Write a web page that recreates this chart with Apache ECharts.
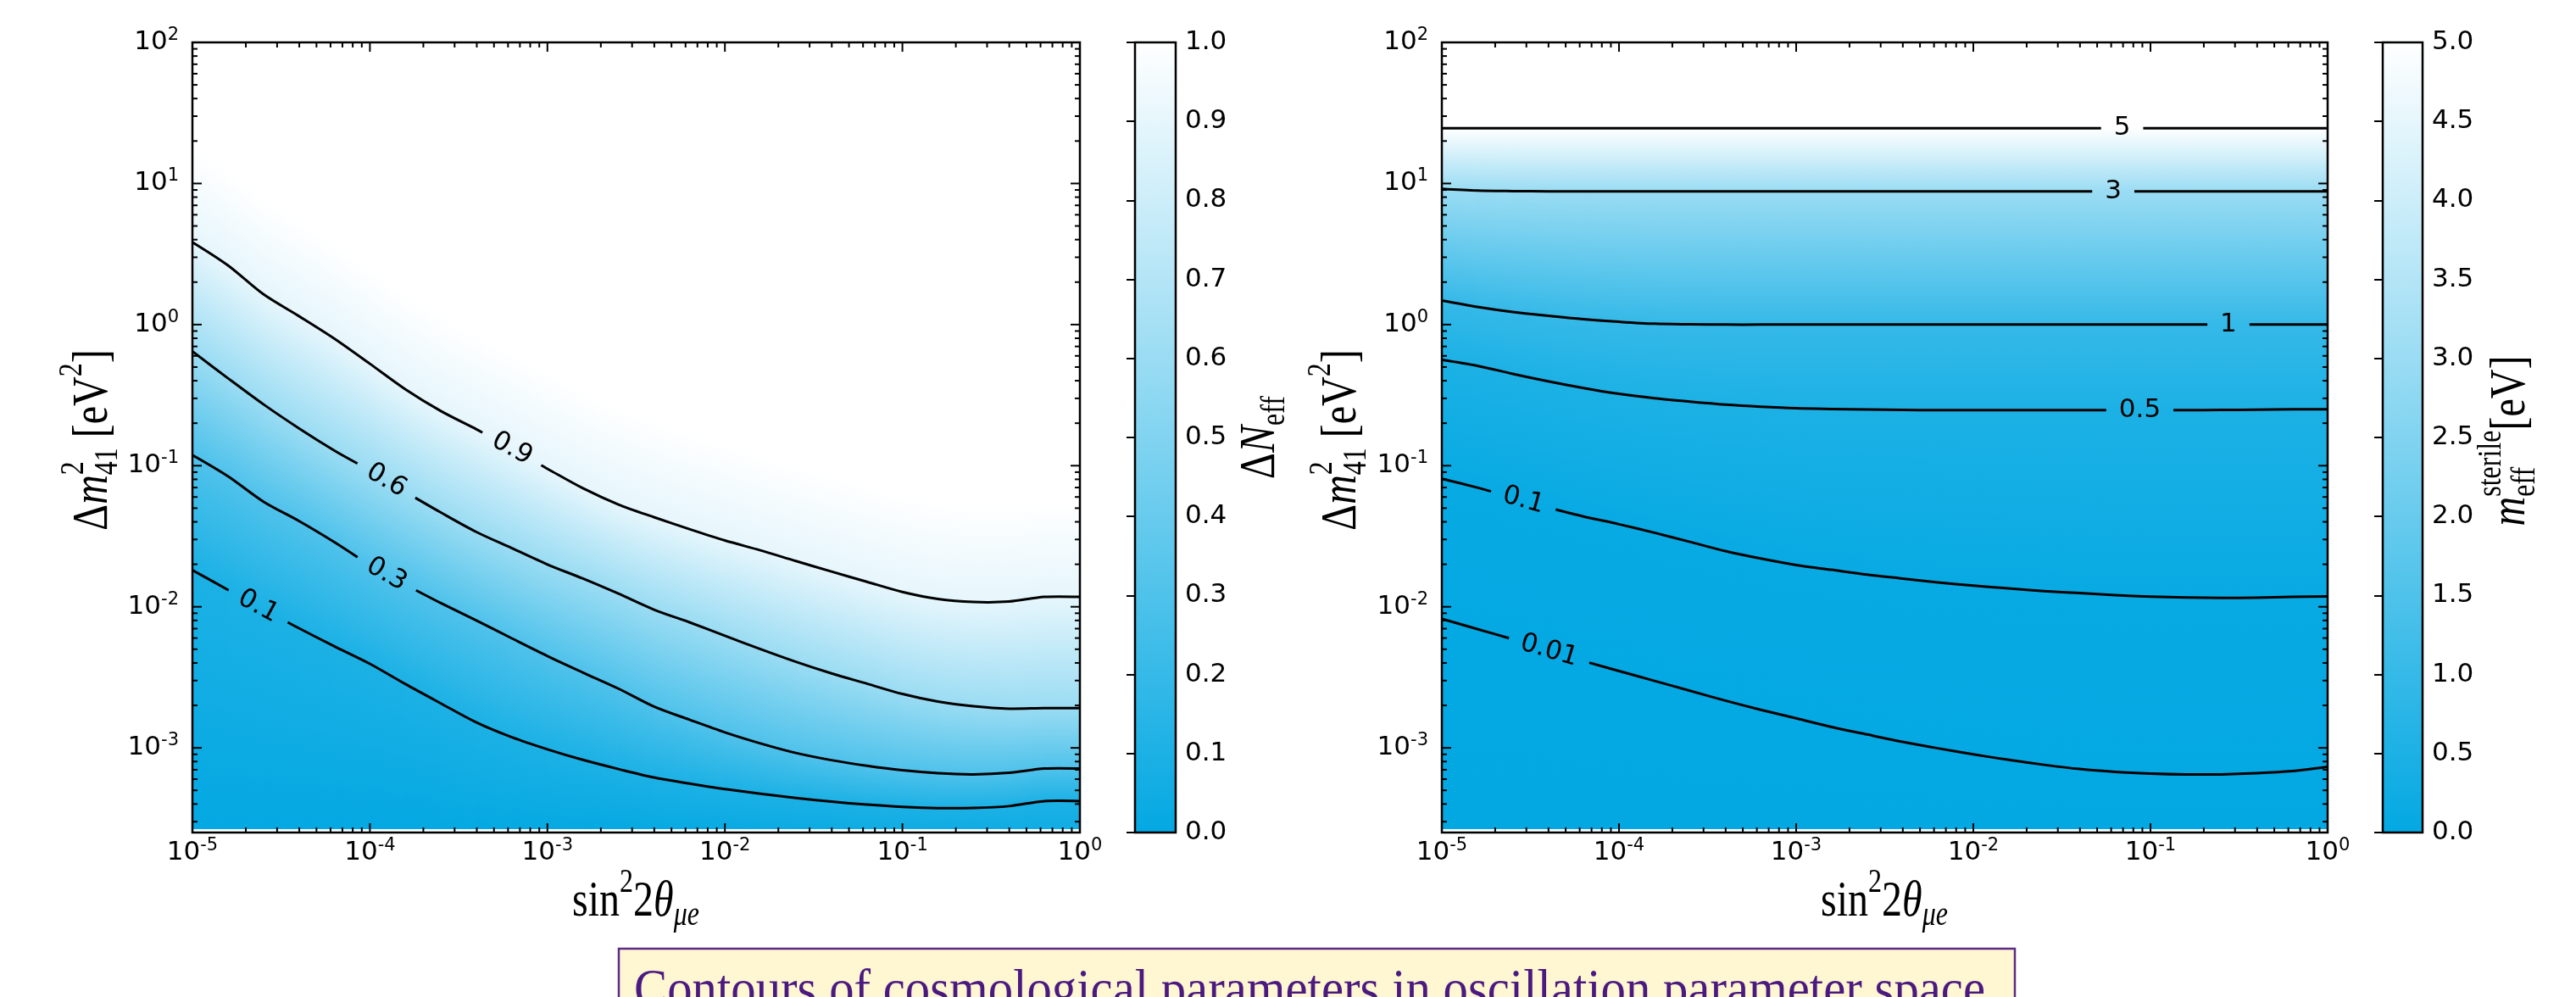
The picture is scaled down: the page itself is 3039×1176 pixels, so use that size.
<!DOCTYPE html>
<html>
<head>
<meta charset="utf-8">
<title>Contours of cosmological parameters</title>
<script src="https://cdn.jsdelivr.net/npm/echarts@6/dist/echarts.min.js"></script>
<style>
  html, body { margin: 0; padding: 0; background: #fff; }
  #chart { width: 3039px; height: 1176px; }
</style>
</head>
<body>
<div id="chart"></div>
<script>
// columns of sin^2(2theta), log10, shared by every contour
var sinExp = [-5, -4.8, -4.6, -4.4, -4.2, -4, -3.8, -3.6, -3.4, -3.2, -3, -2.8, -2.6, -2.4, -2.2, -2, -1.8, -1.6, -1.4, -1.2, -1, -0.8, -0.6, -0.4, -0.2, 0];

// left panel, Delta N_eff: log10(dm2_41) of each contour at the columns above
var dn09 = [0.584, 0.42, 0.215, 0.06, -0.10, -0.278, -0.459, -0.613, -0.742, -0.88, -1.022, -1.16, -1.275, -1.365, -1.45, -1.53, -1.60, -1.676, -1.75, -1.823, -1.895, -1.945, -1.966, -1.963, -1.93, -1.93];
var dn06 = [-0.19, -0.38, -0.565, -0.735, -0.893, -1.034, -1.187, -1.332, -1.47, -1.585, -1.70, -1.80, -1.907, -2.02, -2.11, -2.205, -2.30, -2.39, -2.472, -2.545, -2.618, -2.672, -2.705, -2.722, -2.718, -2.718];
var dn03 = [-0.925, -1.075, -1.255, -1.392, -1.542, -1.706, -1.844, -1.974, -2.097, -2.224, -2.349, -2.466, -2.58, -2.707, -2.80, -2.89, -2.968, -3.036, -3.087, -3.127, -3.159, -3.18, -3.188, -3.177, -3.147, -3.147];
var dn01 = [-1.74, -1.88, -2.018, -2.152, -2.28, -2.404, -2.548, -2.685, -2.82, -2.925, -3.01, -3.085, -3.15, -3.21, -3.253, -3.292, -3.325, -3.355, -3.381, -3.402, -3.418, -3.427, -3.426, -3.413, -3.377, -3.377];
// where the left field has faded to white (Delta N_eff ~ 1)
var dnWhite = [1.25, 1.10, 0.90, 0.74, 0.58, 0.40, 0.22, 0.07, -0.06, -0.19, -0.33, -0.46, -0.58, -0.67, -0.76, -0.84, -0.92, -0.99, -1.06, -1.13, -1.20, -1.25, -1.28, -1.28, -1.26, -1.26];
// Delta N_eff along the lower edge of the panel
var dnFloor = [0.005, 0.005, 0.005, 0.005, 0.005, 0.005, 0.005, 0.006, 0.007, 0.008, 0.01, 0.012, 0.015, 0.018, 0.02, 0.025, 0.03, 0.035, 0.04, 0.045, 0.05, 0.05, 0.05, 0.05, 0.055, 0.055];
var dnLabels = ['0.9', '0.6', '0.3', '0.1'];
var dnLabelAt = [-3.2, -3.907, -3.907, -4.63];

// right panel, m_eff^sterile [eV]
var m5 = [1.392, 1.392, 1.392, 1.392, 1.392, 1.392, 1.392, 1.392, 1.392, 1.392, 1.392, 1.392, 1.392, 1.392, 1.392, 1.392, 1.392, 1.392, 1.392, 1.392, 1.392, 1.392, 1.392, 1.392, 1.392, 1.392];
var m3 = [0.962, 0.95, 0.946, 0.944, 0.944, 0.944, 0.944, 0.944, 0.944, 0.944, 0.944, 0.944, 0.944, 0.944, 0.944, 0.944, 0.944, 0.944, 0.944, 0.944, 0.944, 0.944, 0.944, 0.944, 0.944, 0.944];
var m1 = [0.17, 0.125, 0.089, 0.062, 0.038, 0.02, 0.006, 0.002, 0, 0, 0, 0, 0, 0, 0, 0, 0, 0, 0, 0, 0, 0, 0, 0, 0, 0];
var m05 = [-0.25, -0.292, -0.349, -0.402, -0.45, -0.491, -0.522, -0.546, -0.567, -0.582, -0.593, -0.598, -0.602, -0.605, -0.606, -0.606, -0.606, -0.606, -0.606, -0.606, -0.606, -0.606, -0.605, -0.603, -0.60, -0.60];
var m01 = [-1.092, -1.155, -1.225, -1.297, -1.36, -1.415, -1.475, -1.54, -1.605, -1.658, -1.704, -1.738, -1.772, -1.80, -1.827, -1.85, -1.87, -1.889, -1.903, -1.917, -1.928, -1.934, -1.937, -1.936, -1.93, -1.926];
var m001 = [-2.085, -2.158, -2.23, -2.31, -2.385, -2.455, -2.525, -2.595, -2.665, -2.73, -2.79, -2.852, -2.905, -2.957, -3.003, -3.046, -3.085, -3.12, -3.15, -3.17, -3.182, -3.188, -3.188, -3.18, -3.165, -3.135];
var mLabels = ['5', '3', '1', '0.5', '0.1', '0.01'];
var mLabelAt = [-1.16, -1.21, -0.56, -1.06, -4.54, -4.395];
var mFloor = 0.003;

var yMinExp = -3.6;
var fillFloor = -3.572;
var caption = 'Contours of cosmological parameters in oscillation parameter space';

var BASE = [3, 168, 226];
var LABEL_FONT = '31px "DejaVu Sans"';
var SERIF = '"Liberation Serif"';

function cmap(t) {
    t = Math.max(0, Math.min(1, t));
    return 'rgb(' + BASE.map(function (c) { return Math.round(c + (255 - c) * t); }).join(',') + ')';
}

var measureCtx = document.createElement('canvas').getContext('2d');
function textWidth(txt, font) {
    measureCtx.font = font;
    return measureCtx.measureText(txt).width;
}
function pow10(e) { return Math.pow(10, e); }

function minorTicks(e0, e1, lo) {
    var out = [];
    for (var e = e0; e < e1; e++) {
        for (var m = 2; m < 10; m++) {
            var v = m * pow10(e);
            if (v >= lo) out.push(v);
        }
    }
    return out;
}
var xMajor = [1e-5, 1e-4, 1e-3, 1e-2, 1e-1, 1];
var yMajor = [1e-3, 1e-2, 1e-1, 1, 10, 100];
var xMinor = minorTicks(-5, 0, 1e-5);
var yMinor = minorTicks(-4, 2, pow10(yMinExp));

function powLabel(v) {
    var e = Math.log(v) / Math.LN10;
    var r = Math.round(e);
    if (Math.abs(e - r) > 1e-6) return '';
    return '{b|10}{s|' + r + '}';
}
var tickRich = {
    b: { fontSize: 31, fontFamily: 'DejaVu Sans', lineHeight: 38, color: '#000' },
    s: { fontSize: 21, fontFamily: 'DejaVu Sans', lineHeight: 25, verticalAlign: 'top', color: '#000' }
};

function logX(g) {
    return {
        type: 'log', logBase: 10, gridIndex: g, min: 1e-5, max: 1,
        axisLine: { show: false }, axisTick: { show: false }, splitLine: { show: false },
        axisLabel: { formatter: powLabel, margin: 5, rich: tickRich }
    };
}
function logY(g) {
    return {
        type: 'log', logBase: 10, gridIndex: g, min: pow10(yMinExp), max: 100,
        axisLine: { show: false }, axisTick: { show: false }, splitLine: { show: false },
        axisLabel: { formatter: powLabel, margin: 16, rich: tickRich }
    };
}
function barX(g) {
    return { type: 'value', gridIndex: g, min: 0, max: 1, show: false };
}
function barY(g, max, step) {
    return {
        type: 'value', gridIndex: g, min: 0, max: max, interval: step, position: 'right', z: 5,
        axisLine: { show: false }, splitLine: { show: false },
        axisTick: { show: true, inside: true, length: 10, lineStyle: { color: '#000', width: 2 } },
        axisLabel: {
            formatter: function (v) { return v.toFixed(1); },
            fontSize: 31, fontFamily: 'DejaVu Sans', color: '#000', margin: 11
        }
    };
}

// filled bands between consecutive levels, shaded across each band
function fillSeries(gi, levels, vals, vmax) {
    var data = [];
    for (var k = 0; k < levels.length - 1; k++) {
        for (var i = 0; i < sinExp.length - 1; i++) {
            data.push([pow10(sinExp[i]), pow10(levels[k][i]), i, k]);
        }
    }
    function valAt(k, i) {
        var v = vals[k];
        v = Array.isArray(v) ? (v[i] + v[i + 1]) / 2 : v;
        return v / vmax;
    }
    return {
        type: 'custom', xAxisIndex: gi, yAxisIndex: gi, silent: true, clip: true, z: 1,
        dimensions: ['x', 'y', 'i', 'k'], encode: { x: 0, y: 1 },
        data: data,
        renderItem: function (params, api) {
            var i = api.value(2), k = api.value(3);
            var lo = levels[k], hi = levels[k + 1];
            var x0 = pow10(sinExp[i]), x1 = pow10(sinExp[i + 1]);
            var p0 = api.coord([x0, pow10(lo[i])]);
            var p1 = api.coord([x1, pow10(lo[i + 1])]);
            var p2 = api.coord([x1, pow10(hi[i + 1])]);
            var p3 = api.coord([x0, pow10(hi[i])]);
            var dx = (p1[0] - p0[0]) + (p2[0] - p3[0]);
            var dy = (p1[1] - p0[1]) + (p2[1] - p3[1]);
            var len = Math.sqrt(dx * dx + dy * dy) || 1;
            var nx = -dy / len, ny = dx / len;
            var lm = [(p0[0] + p1[0]) / 2, (p0[1] + p1[1]) / 2];
            var um = [(p2[0] + p3[0]) / 2, (p2[1] + p3[1]) / 2];
            var proj = (um[0] - lm[0]) * nx + (um[1] - lm[1]) * ny;
            if (Math.abs(proj) < 0.5) proj = proj < 0 ? -0.5 : 0.5;
            var grad = new echarts.graphic.LinearGradient(
                lm[0], lm[1], lm[0] + nx * proj, lm[1] + ny * proj,
                [{ offset: 0, color: cmap(valAt(k, i)) }, { offset: 1, color: cmap(valAt(k + 1, i)) }],
                true
            );
            var e = 0.6;
            return {
                type: 'polygon',
                shape: { points: [[p0[0] - e, p0[1] + e], [p1[0] + e, p1[1] + e], [p2[0] + e, p2[1] - e], [p3[0] - e, p3[1] - e]] },
                style: { fill: grad }
            };
        }
    };
}

function cutAround(pts, c, r) {
    function dist(p) { return Math.hypot(p[0] - c[0], p[1] - c[1]); }
    function hit(p, q, enter) {
        var fx = p[0] - c[0], fy = p[1] - c[1], ex = q[0] - p[0], ey = q[1] - p[1];
        var A = ex * ex + ey * ey, B = 2 * (fx * ex + fy * ey), C = fx * fx + fy * fy - r * r;
        var s = Math.sqrt(Math.max(0, B * B - 4 * A * C));
        var t = enter ? (-B - s) / (2 * A) : (-B + s) / (2 * A);
        return [p[0] + t * ex, p[1] + t * ey];
    }
    var before = [], after = [], state = 0;
    for (var i = 0; i < pts.length; i++) {
        var p = pts[i], inside = dist(p) < r;
        if (state === 0) {
            if (!inside) before.push(p);
            else { if (i > 0) before.push(hit(pts[i - 1], p, true)); state = 1; }
        } else if (state === 1) {
            if (!inside) { after.push(hit(pts[i - 1], p, false)); after.push(p); state = 2; }
        } else {
            after.push(p);
        }
    }
    return [before, after].filter(function (s) { return s.length > 1; });
}

// contour lines with inline labels
function contourSeries(gi, lines, labels, labelAt) {
    return {
        type: 'custom', xAxisIndex: gi, yAxisIndex: gi, silent: true, clip: true, z: 5,
        data: lines.map(function (l, n) { return [1e-2, 1, n]; }),
        renderItem: function (params, api) {
            var n = api.value(2);
            var ys = lines[n];
            var pts = sinExp.map(function (x, i) { return api.coord([pow10(x), pow10(ys[i])]); });
            var lx = api.coord([pow10(labelAt[n]), 1])[0];
            var j = 0;
            while (j < pts.length - 2 && pts[j + 1][0] < lx) j++;
            var t = (lx - pts[j][0]) / (pts[j + 1][0] - pts[j][0]);
            var cy = pts[j][1] + t * (pts[j + 1][1] - pts[j][1]);
            var a = Math.max(0, j - 1), b = Math.min(pts.length - 1, j + 2);
            var ang = Math.atan2(pts[b][1] - pts[a][1], pts[b][0] - pts[a][0]);
            var withC = pts.slice(0, j + 1).concat([[lx, cy]], pts.slice(j + 1));
            var r = textWidth(labels[n], LABEL_FONT) / 2 + 15;
            var children = cutAround(withC, [lx, cy], r).map(function (seg) {
                return {
                    type: 'polyline', shape: { points: seg, smooth: 0.3 },
                    style: { fill: 'none', stroke: '#000', lineWidth: 3 }
                };
            });
            children.push({
                type: 'text', x: lx, y: cy, rotation: -ang,
                style: {
                    text: labels[n], font: LABEL_FONT, fill: '#000',
                    textAlign: 'center', textVerticalAlign: 'middle'
                }
            });
            return { type: 'group', children: children };
        }
    };
}

// frame and inward log ticks on all four sides
function frameSeries(gi) {
    return {
        type: 'custom', xAxisIndex: gi, yAxisIndex: gi, silent: true, clip: false, z: 10,
        data: [[1e-2, 1]],
        renderItem: function (params, api) {
            var cs = params.coordSys;
            var top = cs.y, bottom = cs.y + cs.height, left = cs.x, right = cs.x + cs.width;
            var children = [];
            function tick(x1, y1, x2, y2) {
                children.push({ type: 'line', shape: { x1: x1, y1: y1, x2: x2, y2: y2 }, style: { stroke: '#000', lineWidth: 2 } });
            }
            [[xMajor, 11], [xMinor, 6]].forEach(function (set) {
                set[0].forEach(function (v) {
                    var px = api.coord([v, 1])[0];
                    tick(px, bottom, px, bottom - set[1]);
                    tick(px, top, px, top + set[1]);
                });
            });
            [[yMajor, 11], [yMinor, 6]].forEach(function (set) {
                set[0].forEach(function (v) {
                    var py = api.coord([1e-2, v])[1];
                    tick(left, py, left + set[1], py);
                    tick(right, py, right - set[1], py);
                });
            });
            children.push({
                type: 'rect', shape: { x: left, y: top, width: cs.width, height: cs.height },
                style: { fill: 'none', stroke: '#000', lineWidth: 2.5 }
            });
            return { type: 'group', children: children };
        }
    };
}

function barSeries(gi, max) {
    return {
        type: 'custom', xAxisIndex: gi, yAxisIndex: gi, silent: true, clip: false, z: 1,
        data: [[0, 0]],
        renderItem: function (params, api) {
            var a = api.coord([0, 0]), b = api.coord([1, max]);
            return {
                type: 'rect',
                shape: { x: a[0], y: b[1], width: b[0] - a[0], height: a[1] - b[1] },
                style: {
                    fill: new echarts.graphic.LinearGradient(0, 1, 0, 0, [
                        { offset: 0, color: cmap(0) }, { offset: 1, color: cmap(1) }
                    ]),
                    stroke: '#000', lineWidth: 2.5
                }
            };
        }
    };
}

// serif label built from pieces (sup/sub, optional stacking)
function mathLabel(parts, cx, cy, rotation, sy) {
    var x = 0, stackW = 0, children = [];
    parts.forEach(function (p) {
        var font = (p.it ? 'italic ' : '') + p.s + 'px ' + SERIF;
        var w = textWidth(p.t, font);
        children.push({
            type: 'text', x: x, y: p.dy || 0,
            style: { text: p.t, font: font, fill: '#000', textAlign: 'left', textVerticalAlign: 'middle' }
        });
        if (p.stack) { stackW = w; } else { x += Math.max(w, stackW); stackW = 0; }
    });
    children.forEach(function (c) { c.x -= x / 2; });
    return { type: 'group', x: cx, y: cy, rotation: rotation || 0, scaleY: sy || 1, silent: true, children: children };
}

var F = 48, S = 32;
var xTitle = [{ t: 'sin', s: F }, { t: '2', s: S, dy: -18 }, { t: '2', s: F }, { t: 'θ', s: F, it: 1 }, { t: 'μe', s: S, it: 1, dy: 13 }];
var yTitle = [{ t: 'Δ', s: F }, { t: 'm', s: F, it: 1 }, { t: '2', s: S, dy: -18, stack: 1 }, { t: '41', s: S, dy: 14 }, { t: ' [eV', s: F }, { t: '2', s: S, dy: -20 }, { t: ']', s: F }];
var dnTitle = [{ t: 'Δ', s: F }, { t: 'N', s: F, it: 1 }, { t: 'eff', s: S, dy: 14 }];
var mTitle = [{ t: 'm', s: F, it: 1 }, { t: 'sterile', s: S, dy: -18, stack: 1 }, { t: 'eff', s: S, dy: 14 }, { t: '[eV]', s: F }];

var captionFont = '64px ' + SERIF;
var captionScale = 1594 / textWidth(caption, captionFont);

var floorRow = sinExp.map(function () { return fillFloor; });

var chart = echarts.init(document.getElementById('chart'));
var option = {
    animation: false,
    backgroundColor: '#fff',
    grid: [
        { left: 227, top: 50, width: 1047, height: 932, outerBoundsMode: 'none' },
        { left: 1701, top: 50, width: 1045, height: 932, outerBoundsMode: 'none' },
        { left: 1339, top: 50, width: 48, height: 932, outerBoundsMode: 'none' },
        { left: 2811, top: 50, width: 47, height: 932, outerBoundsMode: 'none' }
    ],
    xAxis: [logX(0), logX(1), barX(2), barX(3)],
    yAxis: [logY(0), logY(1), barY(2, 1, 0.1), barY(3, 5, 0.5)],
    series: [
        fillSeries(0, [floorRow, dn01, dn03, dn06, dn09, dnWhite], [dnFloor, 0.1, 0.3, 0.6, 0.9, 1.0], 1),
        contourSeries(0, [dn09, dn06, dn03, dn01], dnLabels, dnLabelAt),
        frameSeries(0),
        fillSeries(1, [floorRow, m001, m01, m05, m1, m3, m5], [mFloor, 0.01, 0.1, 0.5, 1, 3, 5], 5),
        contourSeries(1, [m5, m3, m1, m05, m01, m001], mLabels, mLabelAt),
        frameSeries(1),
        barSeries(2, 1),
        barSeries(3, 5)
    ],
    graphic: [
        mathLabel(xTitle, 750, 1064, 0, 1.25),
        mathLabel(xTitle, 2223, 1064, 0, 1.25),
        mathLabel(yTitle, 110, 519, Math.PI / 2, 1.25),
        mathLabel(yTitle, 1583, 519, Math.PI / 2, 1.25),
        mathLabel(dnTitle, 1487, 516, Math.PI / 2, 1.25),
        mathLabel(mTitle, 2962, 520, Math.PI / 2, 1.25),
        {
            type: 'rect', silent: true,
            shape: { x: 730, y: 1119, width: 1647, height: 120 },
            style: { fill: '#FFF6D2', stroke: '#5B2A86', lineWidth: 2.5 }
        },
        {
            type: 'text', silent: true, x: 748, y: 1138, scaleX: captionScale,
            style: { text: caption, font: captionFont, fill: '#4B1A80', textAlign: 'left', textVerticalAlign: 'top' }
        }
    ]
};
chart.setOption(option);
window.addEventListener('resize', function () { chart.resize(); });
</script>
</body>
</html>
